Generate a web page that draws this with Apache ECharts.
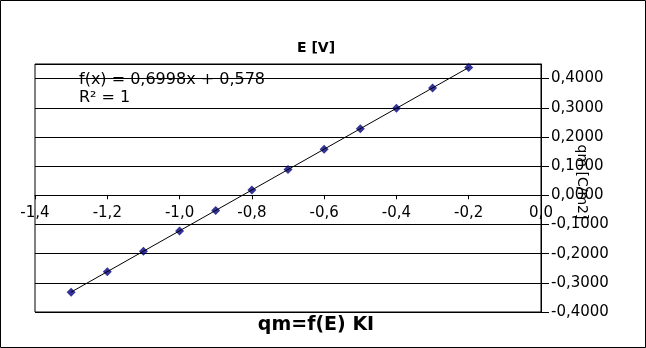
<!DOCTYPE html>
<html>
<head>
<meta charset="utf-8">
<script src="https://cdn.jsdelivr.net/npm/echarts@6/dist/echarts.min.js"></script>
<style>
  html, body { margin: 0; padding: 0; background: #fff; }
  #chart { width: 646px; height: 348px; }
</style>
</head>
<body>
<div id="chart"></div>
<script>
// Potential E [V] and surface charge qm [C/m2]
const potentials = [-1.3, -1.2, -1.1, -1.0, -0.9, -0.8, -0.7, -0.6, -0.5, -0.4, -0.3, -0.2];
const charges = [-0.332, -0.262, -0.192, -0.122, -0.052, 0.018, 0.088, 0.158, 0.228, 0.298, 0.368, 0.438];

// Linear fit shown in the annotation
const slope = 0.6998;
const intercept = 0.578;
const rSquared = 1;

const xRange = [-1.4, 0.0];
const yRange = [-0.4, 0.45];

const FONT = 'DejaVu Sans';
const W = 646, H = 348;
const GRID = { left: 35, right: 105, top: 64, bottom: 36 };

const fmtComma = (v, d) => {
  if (Math.abs(v) < 1e-9) v = 0;
  return v.toFixed(d).replace('.', ',');
};

// Fitted line over the span of the measurements
const xFirst = potentials[0];
const xLast = potentials[potentials.length - 1];
const fitLine = [[xFirst, slope * xFirst + intercept], [xLast, slope * xLast + intercept]];

// The x axis crosses the plot at qm = 0
const plotHeight = H - GRID.top - GRID.bottom;
const zeroOffset = -(0 - yRange[0]) / (yRange[1] - yRange[0]) * plotHeight;

const chart = echarts.init(document.getElementById('chart'), null, { renderer: 'canvas' });

chart.setOption({
  animation: false,
  backgroundColor: '#ffffff',
  grid: Object.assign({
    show: true, borderColor: '#000', borderWidth: 1, backgroundColor: 'transparent'
  }, GRID),
  xAxis: {
    type: 'value',
    position: 'bottom',
    offset: zeroOffset,
    min: xRange[0], max: xRange[1], interval: 0.2,
    axisLine: { onZero: false, lineStyle: { color: '#000', width: 1 } },
    axisTick: { show: true, length: 4, lineStyle: { color: '#000' } },
    axisLabel: {
      color: '#000', fontFamily: FONT, fontSize: 15, margin: 10,
      formatter: v => fmtComma(v, 1)
    },
    splitLine: { show: false }
  },
  yAxis: {
    type: 'value',
    position: 'right',
    min: yRange[0], max: yRange[1], interval: 0.1,
    axisLine: { show: true, onZero: false, lineStyle: { color: '#000', width: 1 } },
    axisTick: { show: true, length: 8, lineStyle: { color: '#000' } },
    axisLabel: {
      color: '#000', fontFamily: FONT, fontSize: 15, margin: 10,
      showMaxLabel: false,
      formatter: v => fmtComma(v, 4)
    },
    splitLine: { show: true, lineStyle: { color: '#000', width: 1 } }
  },
  series: [
    {
      type: 'scatter',
      data: potentials.map((x, i) => [x, charges[i]]),
      symbol: 'diamond',
      symbolSize: 9,
      itemStyle: { color: '#000080' },
      z: 2
    },
    {
      type: 'line',
      data: fitLine,
      showSymbol: false,
      symbol: 'none',
      lineStyle: { color: '#000', width: 1 },
      z: 3,
      silent: true
    }
  ],
  graphic: [
    {
      type: 'rect',
      shape: { x: 0.5, y: 0.5, width: W - 1, height: H - 1 },
      style: { fill: 'none', stroke: '#000', lineWidth: 1 },
      z: 10
    },
    {
      type: 'text',
      x: 316, y: 48,
      style: {
        text: 'E [V]', fontFamily: FONT, fontSize: 14, fontWeight: 'bold',
        fill: '#000', align: 'center', verticalAlign: 'middle'
      }
    },
    {
      type: 'text',
      x: 316, y: 325,
      style: {
        text: 'qm=f(E) KI', fontFamily: FONT, fontSize: 19, fontWeight: 'bold',
        fill: '#000', align: 'center', verticalAlign: 'middle'
      }
    },
    {
      type: 'text',
      x: 582, y: 182,
      rotation: -Math.PI / 2,
      style: {
        text: 'qm [C/m2]', fontFamily: FONT, fontSize: 14,
        fill: '#000', align: 'center', verticalAlign: 'middle'
      },
      z: 5
    },
    {
      type: 'text',
      x: 79, y: 79.5,
      style: {
        text: 'f(x) = ' + fmtComma(slope, 4) + 'x + ' + fmtComma(intercept, 3),
        fontFamily: FONT, fontSize: 16, fill: '#000', verticalAlign: 'middle'
      },
      z: 5
    },
    {
      type: 'text',
      x: 79, y: 97.5,
      style: {
        text: 'R² = ' + rSquared,
        fontFamily: FONT, fontSize: 16, fill: '#000', verticalAlign: 'middle'
      },
      z: 5
    }
  ]
});
</script>
</body>
</html>
